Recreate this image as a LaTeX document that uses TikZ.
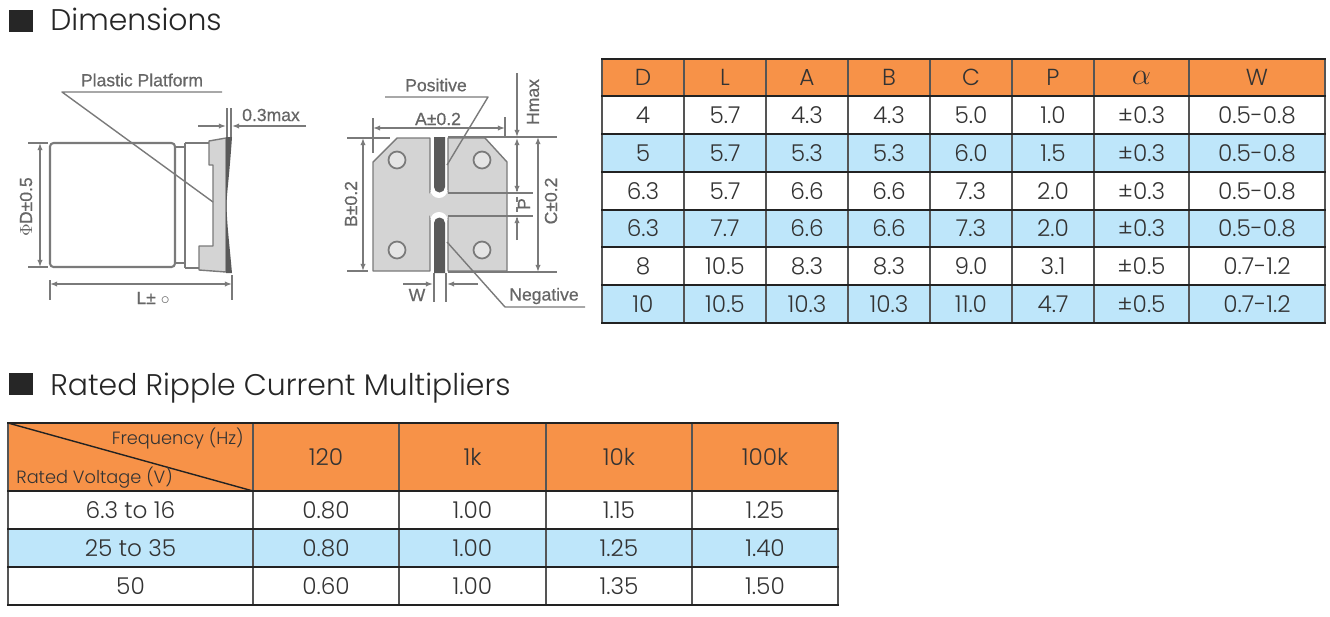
\documentclass[tikz,border=0pt]{standalone}
\usepackage{fontspec}
\usepackage{amsmath}
\setmainfont{Poppins Light}
\newfontfamily\figfont{Liberation Sans}[FakeBold=0.6]
\usetikzlibrary{arrows.meta}
\definecolor{headorange}{HTML}{F79248}
\definecolor{rowblue}{HTML}{BEE6FA}
\definecolor{gridblack}{HTML}{222222}
\definecolor{gridgray}{HTML}{555555}
\definecolor{inkgray}{HTML}{333333}
\definecolor{partgray}{HTML}{D4D4D4}
\definecolor{figgray}{HTML}{7A7A7A}
\definecolor{labelgray}{HTML}{666666}
\definecolor{termgray}{HTML}{5A5A5A}
\tikzset{
  cell/.style={text=inkgray,font=\fontsize{13.2}{15}\selectfont,inner sep=0pt},
  smallcell/.style={text=inkgray,font=\fontsize{10.1}{12}\selectfont,inner sep=0pt},
  heading/.style={text=black!85,font=\fontsize{17}{20}\selectfont,inner sep=0pt,anchor=base west},
  figlabel/.style={text=labelgray,font=\figfont\fontsize{10}{11}\selectfont,inner sep=0pt},
  hrule/.style={gridblack,line width=1.6pt},
  vrule/.style={gridgray,line width=1.2pt},
  figline/.style={figgray,line width=0.8pt},
  dimline/.style={figgray,line width=0.8pt,{Latex[length=4pt,width=3pt,open]}-{Latex[length=4pt,width=3pt,open]}},
  dimend/.style={figgray,line width=0.8pt,-{Latex[length=4pt,width=3pt,open]}}
}
\begin{document}
\begin{tikzpicture}[line cap=butt,line join=round,x=0.02cm,y=-0.02cm]
\useasboundingbox (0,0) rectangle (1330,616);
% headings
\fill[black!85] (9,10) rectangle (33,32);
\node[heading] (titleDim) at (50,30) {Dimensions};
\fill[black!85] (9,373) rectangle (33,395);
\node[heading] (titleRip) at (50,395) {Rated Ripple Current Multipliers};
% dimension table
\fill[headorange] (602,59) rectangle (1325,96);
\fill[rowblue] (602,134) rectangle (1325,172);
\fill[rowblue] (602,210) rectangle (1325,247);
\fill[rowblue] (602,285) rectangle (1325,323);
\draw[vrule] (602,59)-- (602,323);
\draw[vrule] (684,59)-- (684,323);
\draw[vrule] (766,59)-- (766,323);
\draw[vrule] (848,59)-- (848,323);
\draw[vrule] (930,59)-- (930,323);
\draw[vrule] (1012,59)-- (1012,323);
\draw[vrule] (1094,59)-- (1094,323);
\draw[vrule] (1189,59)-- (1189,323);
\draw[vrule] (1325,59)-- (1325,323);
\draw[hrule] (601,59)-- (1326,59);
\draw[hrule] (601,96)-- (1326,96);
\draw[hrule] (601,134)-- (1326,134);
\draw[hrule] (601,172)-- (1326,172);
\draw[hrule] (601,210)-- (1326,210);
\draw[hrule] (601,247)-- (1326,247);
\draw[hrule] (601,285)-- (1326,285);
\draw[hrule] (601,323)-- (1326,323);
\node[cell] (headD) at (643,77.5) {D};
\node[cell] (headL) at (725,77.5) {L};
\node[cell] (headA) at (807,77.5) {A};
\node[cell] (headB) at (889,77.5) {B};
\node[cell] (headC) at (971,77.5) {C};
\node[cell] (headP) at (1053,77.5) {P};
\node[cell,font=\fontsize{17}{19}\selectfont] (headAlpha) at (1141.5,77.5) {$\alpha$};
\node[cell] (headW) at (1257,77.5) {W};
\node[cell] (aD) at (643,115) {4};
\node[cell] (aL) at (725,115) {5.7};
\node[cell] (aA) at (807,115) {4.3};
\node[cell] (aB) at (889,115) {4.3};
\node[cell] (aC) at (971,115) {5.0};
\node[cell] (aP) at (1053,115) {1.0};
\node[cell] (aAlpha) at (1141.5,115) {±0.3};
\node[cell] (aW) at (1257,115) {0.5-0.8};
\node[cell] (bD) at (643,153) {5};
\node[cell] (bL) at (725,153) {5.7};
\node[cell] (bA) at (807,153) {5.3};
\node[cell] (bB) at (889,153) {5.3};
\node[cell] (bC) at (971,153) {6.0};
\node[cell] (bP) at (1053,153) {1.5};
\node[cell] (bAlpha) at (1141.5,153) {±0.3};
\node[cell] (bW) at (1257,153) {0.5-0.8};
\node[cell] (cD) at (643,191) {6.3};
\node[cell] (cL) at (725,191) {5.7};
\node[cell] (cA) at (807,191) {6.6};
\node[cell] (cB) at (889,191) {6.6};
\node[cell] (cC) at (971,191) {7.3};
\node[cell] (cP) at (1053,191) {2.0};
\node[cell] (cAlpha) at (1141.5,191) {±0.3};
\node[cell] (cW) at (1257,191) {0.5-0.8};
\node[cell] (dD) at (643,228.5) {6.3};
\node[cell] (dL) at (725,228.5) {7.7};
\node[cell] (dA) at (807,228.5) {6.6};
\node[cell] (dB) at (889,228.5) {6.6};
\node[cell] (dC) at (971,228.5) {7.3};
\node[cell] (dP) at (1053,228.5) {2.0};
\node[cell] (dAlpha) at (1141.5,228.5) {±0.3};
\node[cell] (dW) at (1257,228.5) {0.5-0.8};
\node[cell] (eD) at (643,266) {8};
\node[cell] (eL) at (725,266) {10.5};
\node[cell] (eA) at (807,266) {8.3};
\node[cell] (eB) at (889,266) {8.3};
\node[cell] (eC) at (971,266) {9.0};
\node[cell] (eP) at (1053,266) {3.1};
\node[cell] (eAlpha) at (1141.5,266) {±0.5};
\node[cell] (eW) at (1257,266) {0.7-1.2};
\node[cell] (fD) at (643,304) {10};
\node[cell] (fL) at (725,304) {10.5};
\node[cell] (fA) at (807,304) {10.3};
\node[cell] (fB) at (889,304) {10.3};
\node[cell] (fC) at (971,304) {11.0};
\node[cell] (fP) at (1053,304) {4.7};
\node[cell] (fAlpha) at (1141.5,304) {±0.5};
\node[cell] (fW) at (1257,304) {0.7-1.2};
% ripple table
\fill[headorange] (8,423) rectangle (838,491);
\fill[rowblue] (8,529) rectangle (838,567);
\draw[vrule] (8,423)-- (8,605);
\draw[vrule] (253,423)-- (253,605);
\draw[vrule] (399,423)-- (399,605);
\draw[vrule] (546,423)-- (546,605);
\draw[vrule] (692,423)-- (692,605);
\draw[vrule] (838,423)-- (838,605);
\draw[hrule] (7,423)-- (839,423);
\draw[hrule] (7,491)-- (839,491);
\draw[hrule] (7,529)-- (839,529);
\draw[hrule] (7,567)-- (839,567);
\draw[hrule] (7,605)-- (839,605);
\draw[gridblack,line width=0.8pt] (8,423)-- (253,491);
\node[smallcell,anchor=east] (headFreq) at (244,438) {Frequency (Hz)};
\node[smallcell,anchor=west] (headVolt) at (16,478) {Rated Voltage (V)};
\node[cell] (head120) at (326,457) {120};
\node[cell] (head1k) at (472.5,457) {1k};
\node[cell] (head10k) at (619,457) {10k};
\node[cell] (head100k) at (765,457) {100k};
\node[cell] (loV) at (130.5,510) {6.3 to 16};
\node[cell] (lo120) at (326,510) {0.80};
\node[cell] (lo1k) at (472.5,510) {1.00};
\node[cell] (lo10k) at (619,510) {1.15};
\node[cell] (lo100k) at (765,510) {1.25};
\node[cell] (midV) at (130.5,548) {25 to 35};
\node[cell] (mid120) at (326,548) {0.80};
\node[cell] (mid1k) at (472.5,548) {1.00};
\node[cell] (mid10k) at (619,548) {1.25};
\node[cell] (mid100k) at (765,548) {1.40};
\node[cell] (hiV) at (130.5,586) {50};
\node[cell] (hi120) at (326,586) {0.60};
\node[cell] (hi1k) at (472.5,586) {1.00};
\node[cell] (hi10k) at (619,586) {1.35};
\node[cell] (hi100k) at (765,586) {1.50};
% side view
\draw[figline,line width=1.2pt,rounded corners=2pt] (50,143) rectangle (175,267);
\draw[figline] (175,147)-- (185,147);
\draw[figline] (175,263)-- (185,263);
\draw[figline,line width=1.2pt] (185,143)-- (210,143);
\draw[figline,line width=1.2pt] (185,268)-- (199,268);
\draw[figline] (185,143)-- (185,268);
\fill[partgray,draw=figgray,line width=0.8pt] (209,141)-- (226,138)-- (226,272)-- (199,270)-- (199,246)-- (213,246)-- (213,165)-- (209,165)-- cycle;
\fill[termgray] (226,137)-- (232,137).. controls (229,180) and (227,190) .. (226.5,205).. controls (227,225) and (229,240) .. (232,273)-- (226,273)-- cycle;
\node[figlabel] (platformLabel) at (142,80) {Plastic Platform};
\draw[figline] (222,92)-- (62,92)-- (213,202);
\node[figlabel] (maxLabel) at (271,115) {0.3max};
\draw[figline] (227,108)-- (227,137);
\draw[figline] (231,108)-- (231,137);
\draw[dimend] (198,126)-- (226,126);
\draw[dimend] (306,126)-- (232,126);
\node[figlabel,rotate=90] (diaLabel) at (26,207) {$\Phi$D±0.5};
\draw[figline] (28,143)-- (48,143);
\draw[figline] (28,267)-- (48,267);
\draw[dimline] (40,143)-- (40,267);
\node[figlabel] (lenLabel) at (153,298) {L± $\circ$};
\draw[figline] (50,280)-- (50,300);
\draw[figline] (232,275)-- (232,300);
\draw[dimline] (50,284)-- (232,284);
% bottom view
\fill[partgray,draw=figgray,line width=0.8pt] (373,162)-- (397,138)-- (430,138)-- (430,193)-- (448,193)-- (448,138)-- (485,138)-- (507,162)-- (507,271)-- (448,271)-- (448,216)-- (430,216)-- (430,271)-- (373,271)-- cycle;
\fill[partgray] (430.4,191.5) rectangle (447.6,217.5);
\fill[white] (430.5,190) arc[start angle=180,end angle=0,x radius=8.5,y radius=8]-- cycle;
\fill[white] (430.5,220) arc[start angle=180,end angle=360,x radius=8.5,y radius=8]-- cycle;
\fill[termgray] (434,137)-- (445,137)-- (445,187) arc[start angle=0,end angle=180,x radius=5.5,y radius=5.5]-- cycle;
\fill[termgray] (434,273)-- (445,273)-- (445,223) arc[start angle=360,end angle=180,x radius=5.5,y radius=5.5]-- cycle;
\draw[figgray,fill=partgray!60,line width=1pt] (397,160) circle [radius=8.5];
\draw[figgray,fill=partgray!60,line width=1pt] (482,160) circle [radius=8.5];
\draw[figgray,fill=partgray!60,line width=1pt] (397,250) circle [radius=8.5];
\draw[figgray,fill=partgray!60,line width=1pt] (482,250) circle [radius=8.5];
\node[figlabel] (posLabel) at (436,85) {Positive};
\draw[figline] (385,97)-- (488,97)-- (447,165);
\node[figlabel] (aLabel) at (438,119) {A±0.2};
\draw[figline] (373,118)-- (373,153);
\draw[figline] (505,117)-- (505,138);
\draw[dimline] (373,128)-- (505,128);
\node[figlabel,rotate=90] (bLabel) at (351,204) {B±0.2};
\draw[figline] (347,138)-- (390,138);
\draw[figline] (347,271)-- (368,271);
\draw[dimline] (363,138)-- (363,271);
\draw[figline] (448,137)-- (557,137);
\draw[figline] (448,272)-- (557,272);
\node[figlabel,rotate=90] (hLabel) at (533,102) {Hmax};
\draw[dimend] (517,73)-- (517,137);
\draw[dimend] (517,165)-- (517,138);
\draw[figline,dashed] (517,165)-- (517,240);
\draw[figgray,line width=1.2pt] (448,193)-- (533,193);
\draw[figgray,line width=1.2pt] (448,216)-- (533,216);
\draw[dimend] (517,170)-- (517,193);
\draw[dimend] (517,240)-- (517,216);
\node[figlabel,rotate=90] (pLabel) at (524,204) {P};
\node[figlabel,rotate=90] (cLabel) at (551,201) {C±0.2};
\draw[dimline] (538,137)-- (538,272);
\node[figlabel] (wLabel) at (417,295) {W};
\draw[figline] (434,273)-- (434,302);
\draw[figline] (446,273)-- (446,302);
\draw[dimend] (403,284)-- (433,284);
\draw[dimend] (478,284)-- (447,284);
\node[figlabel] (negLabel) at (544,296) {Negative};
\draw[figline] (585,307)-- (505,307)-- (447,242);
\end{tikzpicture}
\end{document}
